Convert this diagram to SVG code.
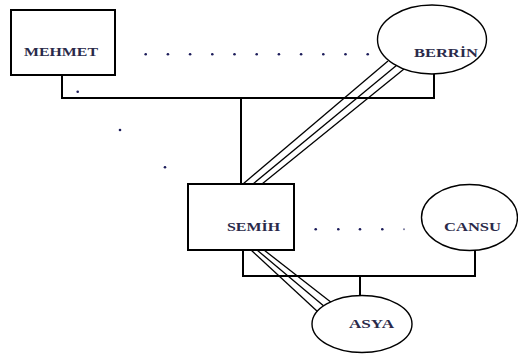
<svg xmlns="http://www.w3.org/2000/svg" width="518" height="354" viewBox="0 0 518 354">
<style>
.box{fill:#fff;stroke:#000;stroke-width:2}
.ell{fill:#fff;stroke:#000;stroke-width:1.4}
.conn{fill:none;stroke:#000;stroke-width:2}
.tri{fill:none;stroke:#000;stroke-width:1.3}
.lbl{font-family:"Liberation Serif",serif;font-size:13px;font-weight:bold;fill:#2a2a4a}
.dot{fill:#1c1c5a}
</style>
<rect width="518" height="354" fill="#fff"/>
<g id="connectors">
<polyline class="conn" points="62,75 62,98 434,98 434,74"/>
<line class="conn" x1="241" y1="98" x2="241" y2="184"/>
<polyline class="conn" points="243,250 243,276 475,276 475,250"/>
<line class="conn" x1="360" y1="276" x2="360" y2="296"/>
<line class="tri" x1="243" y1="184" x2="388" y2="61"/>
<line class="tri" x1="253" y1="184" x2="397" y2="65"/>
<line class="tri" x1="262" y1="184" x2="404" y2="69"/>
<line class="tri" x1="251" y1="250" x2="318" y2="312"/>
<line class="tri" x1="257" y1="250" x2="325" y2="307"/>
<line class="tri" x1="264" y1="250" x2="332" y2="303"/>
</g>
<g id="dots">
<circle class="dot" cx="145.7" cy="54.3" r="1.3"/>
<circle class="dot" cx="167.9" cy="54.3" r="1.3"/>
<circle class="dot" cx="190.1" cy="54.3" r="1.3"/>
<circle class="dot" cx="212.3" cy="54.3" r="1.3"/>
<circle class="dot" cx="234.5" cy="54.3" r="1.3"/>
<circle class="dot" cx="256.7" cy="54.3" r="1.3"/>
<circle class="dot" cx="278.9" cy="54.3" r="1.3"/>
<circle class="dot" cx="301.1" cy="54.3" r="1.3"/>
<circle class="dot" cx="323.3" cy="54.3" r="1.3"/>
<circle class="dot" cx="345.5" cy="54.3" r="1.3"/>
<circle class="dot" cx="367.7" cy="54.3" r="1.3"/>
<circle class="dot" cx="77.7" cy="91.7" r="1.3"/>
<circle class="dot" cx="120" cy="130" r="1.3"/>
<circle class="dot" cx="165" cy="167.3" r="1.3"/>
<circle class="dot" cx="315.7" cy="229.3" r="1.3"/>
<circle class="dot" cx="338.3" cy="229.3" r="1.3"/>
<circle class="dot" cx="360" cy="229.3" r="1.3"/>
<circle class="dot" cx="382.3" cy="229.3" r="1.3"/>
<circle class="dot" cx="404" cy="229.3" r="1" fill-opacity="0.6"/>
</g>
<g id="mehmet">
<rect class="box" x="11" y="10" width="104" height="65"/>
<text class="lbl" x="24" y="56" textLength="74" lengthAdjust="spacingAndGlyphs">MEHMET</text>
</g>
<g id="berrin">
<ellipse class="ell" cx="432" cy="39.5" rx="54.5" ry="34.5"/>
<text class="lbl" x="414" y="57" textLength="64" lengthAdjust="spacingAndGlyphs">BERRİN</text>
</g>
<g id="semih">
<rect class="box" x="188" y="184" width="106" height="66"/>
<text class="lbl" x="227" y="231" textLength="53" lengthAdjust="spacingAndGlyphs">SEMİH</text>
</g>
<g id="cansu">
<ellipse class="ell" cx="469.5" cy="217.5" rx="48" ry="33"/>
<text class="lbl" x="444" y="231" textLength="57" lengthAdjust="spacingAndGlyphs">CANSU</text>
</g>
<g id="asya">
<ellipse class="ell" cx="362" cy="324" rx="50" ry="28.5"/>
<text class="lbl" x="349" y="328" textLength="45" lengthAdjust="spacingAndGlyphs">ASYA</text>
</g>
</svg>
